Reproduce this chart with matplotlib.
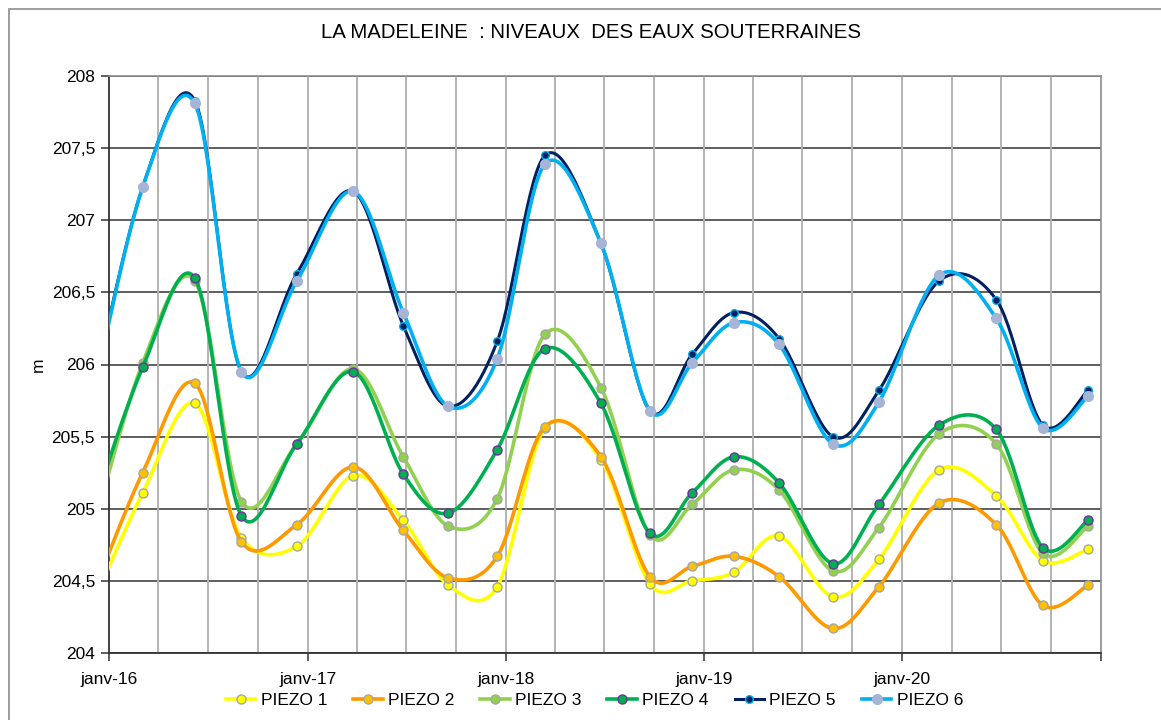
import numpy as np
import matplotlib
matplotlib.use('Agg')
import matplotlib.pyplot as plt
import matplotlib.dates as mdates
from matplotlib.lines import Line2D
from matplotlib.patches import Rectangle

# data
dates = ['2015-11-29', '2016-03-03', '2016-06-07', '2016-09-01', '2016-12-12',
         '2017-03-26', '2017-06-26', '2017-09-17', '2017-12-16', '2018-03-14',
         '2018-06-25', '2018-09-23', '2018-12-10', '2019-02-25', '2019-05-19',
         '2019-08-26', '2019-11-19', '2020-03-09', '2020-06-22', '2020-09-16',
         '2020-12-08']
piezo1 = [204.31, 205.11, 205.73, 204.80, 204.74, 205.23, 204.92, 204.47, 204.46, 205.56,
          205.34, 204.48, 204.50, 204.56, 204.81, 204.39, 204.65, 205.27, 205.09, 204.64, 204.72]
piezo2 = [204.38, 205.25, 205.87, 204.77, 204.89, 205.29, 204.85, 204.52, 204.67, 205.57,
          205.36, 204.53, 204.60, 204.67, 204.53, 204.17, 204.46, 205.04, 204.89, 204.33, 204.47]
piezo3 = [204.80, 206.01, 206.58, 205.05, 205.45, 205.97, 205.36, 204.88, 205.07, 206.21,
          205.84, 204.82, 205.03, 205.27, 205.13, 204.57, 204.87, 205.52, 205.45, 204.69, 204.88]
piezo4 = [204.96, 205.98, 206.60, 204.95, 205.45, 205.95, 205.24, 204.97, 205.41, 206.11,
          205.73, 204.83, 205.11, 205.36, 205.18, 204.62, 205.03, 205.58, 205.55, 204.73, 204.92]
piezo5 = [205.75, 207.23, 207.83, 205.95, 206.63, 207.20, 206.27, 205.71, 206.16, 207.45,
          206.84, 205.68, 206.07, 206.36, 206.18, 205.50, 205.82, 206.58, 206.45, 205.58, 205.82]
piezo6 = [205.72, 207.23, 207.81, 205.95, 206.58, 207.20, 206.36, 205.71, 206.04, 207.39,
          206.84, 205.68, 206.01, 206.29, 206.14, 205.45, 205.74, 206.62, 206.32, 205.56, 205.78]

labels = ['PIEZO 1', 'PIEZO 2', 'PIEZO 3', 'PIEZO 4', 'PIEZO 5', 'PIEZO 6']
series = [piezo1, piezo2, piezo3, piezo4, piezo5, piezo6]
line_colors = ['#FFFF00', '#FF9900', '#92D050', '#00B050', '#002060', '#00B0F0']
face_colors = ['#FFFF00', '#FFC000', '#92D050', '#00B050', '#002060', '#A6B4D6']
edge_colors = ['#A6A6A6', '#A6A6A6', '#A6A6A6', '#7030A0', '#00B0F0', '#A6B4D6']
line_widths = [2.6, 2.6, 2.6, 2.6, 2.2, 2.6]
marker_sizes = [6.5, 6.5, 6.5, 6.5, 5.5, 7]

plt.rcParams['font.family'] = ['Liberation Sans', 'DejaVu Sans']


def smooth(x, y, n=30):
    # Catmull-Rom style bezier, similar to the spreadsheet "smoothed line"
    x = np.asarray(x, float)
    y = np.asarray(y, float)
    px = np.concatenate([[x[0]], x, [x[-1]]])
    py = np.concatenate([[y[0]], y, [y[-1]]])
    t = np.linspace(0, 1, n)[:, None]
    xs, ys = [], []
    for i in range(1, len(px) - 2):
        p0 = np.array([px[i], py[i]])
        p3 = np.array([px[i + 1], py[i + 1]])
        c1 = p0 + (p3 - np.array([px[i - 1], py[i - 1]])) / 6
        c2 = p3 - (np.array([px[i + 2], py[i + 2]]) - p0) / 6
        b = ((1 - t) ** 3 * p0 + 3 * (1 - t) ** 2 * t * c1
             + 3 * (1 - t) * t ** 2 * c2 + t ** 3 * p3)
        xs.append(b[:, 0])
        ys.append(b[:, 1])
    return np.concatenate(xs), np.concatenate(ys)


x = mdates.date2num(np.array(dates, dtype='datetime64[D]'))

fig = plt.figure(figsize=(11.61, 7.2), dpi=100)
fig.patches.append(Rectangle((9 / 1161, -0.1), 1.2, 1 - 9 / 720 + 0.1,
                             transform=fig.transFigure, fill=False,
                             edgecolor='#8C8C8C', linewidth=1.2))
ax = fig.add_axes([109 / 1161, 1 - 653 / 720, 992 / 1161, 577 / 720])

handles = []
for i, vals in enumerate(series):
    sx, sy = smooth(x, vals)
    ax.plot(sx, sy, color=line_colors[i], lw=line_widths[i], zorder=3 + i,
            solid_capstyle='round')
    ax.plot(x, vals, ls='none', marker='o', ms=marker_sizes[i],
            mfc=face_colors[i], mec=edge_colors[i], mew=1.0, zorder=3 + i)
    handles.append(Line2D([0], [0], color=line_colors[i], lw=line_widths[i],
                          marker='o', ms=marker_sizes[i], mfc=face_colors[i],
                          mec=edge_colors[i], mew=1.0))

ax.set_xlim(mdates.date2num(np.datetime64('2016-01-01')),
            mdates.date2num(np.datetime64('2021-01-01')))
ax.set_ylim(204, 208)

years = ['2016', '2017', '2018', '2019', '2020', '2021']
year_labels = ['janv-16', 'janv-17', 'janv-18', 'janv-19', 'janv-20', '']
ax.set_xticks(mdates.date2num(np.array([y + '-01-01' for y in years], dtype='datetime64[D]')))
ax.set_xticklabels(year_labels)
quarters = [y + m for y in years[:-1] for m in ['-01-01', '-04-01', '-07-01', '-10-01']]
quarter_pos = mdates.date2num(np.array(quarters, dtype='datetime64[D]'))
for q in quarter_pos[1:]:
    ax.axvline(q, color='#B3B3B3', lw=1.4, zorder=1)

ax.set_yticks([204, 204.5, 205, 205.5, 206, 206.5, 207, 207.5, 208])
ax.set_yticklabels(['204', '204,5', '205', '205,5', '206', '206,5', '207', '207,5', '208'])
ax.yaxis.grid(True, color='#333333', lw=1.1, zorder=2)
ax.set_axisbelow(True)

ax.tick_params(axis='both', direction='out', length=6, width=1.1, labelsize=12.5,
               color='#333333', pad=4)
ax.tick_params(axis='x', pad=8)
for s in ['left', 'bottom']:
    ax.spines[s].set_color('#333333')
    ax.spines[s].set_linewidth(1.3)
for s in ['top', 'right']:
    ax.spines[s].set_color('#8C8C8C')
    ax.spines[s].set_linewidth(1.2)

ax.set_ylabel('m', fontsize=12.5, labelpad=4)
fig.text(0.509, 1 - 33 / 720, 'LA MADELEINE  : NIVEAUX  DES EAUX SOUTERRAINES',
         ha='center', va='center', fontsize=14.7)

fig.legend(handles, labels, loc='center', bbox_to_anchor=(0.512, 1 - 700 / 720),
           ncol=6, frameon=False, fontsize=12.5, handlelength=1.7,
           handletextpad=0.3, columnspacing=1.5)

fig.savefig('out.png', dpi=100)
